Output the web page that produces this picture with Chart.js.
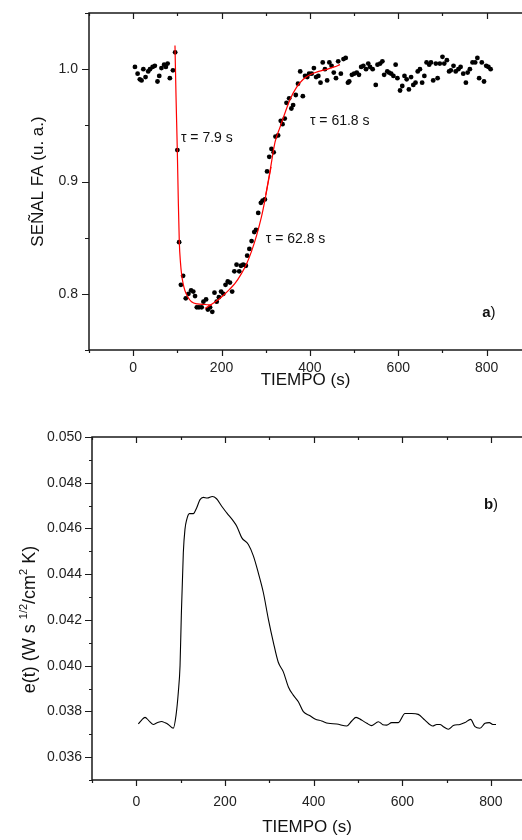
<!DOCTYPE html>
<html>
<head>
<meta charset="utf-8">
<script src="https://cdn.jsdelivr.net/npm/chart.js@4.4.1/dist/chart.umd.min.js"></script>
<style>
  html, body { margin: 0; padding: 0; background: #fff; }
  #wrap { position: relative; width: 522px; height: 840px; }
  canvas { position: absolute; left: 0; }
  #chartA { top: 0; }
  #chartB { top: 400px; }
</style>
</head>
<body>
<div id="wrap">
  <canvas id="chartA" width="522" height="400"></canvas>
  <canvas id="chartB" width="522" height="440"></canvas>
</div>
<script>
// ---- panel a: photoacoustic signal (points) ----
const timeA = [
  4, 10, 15, 19, 23, 28, 34, 38, 44, 49,
  55, 59, 64, 70, 74, 78, 83, 90, 95, 100,
  104, 108, 113, 119, 125, 131, 136, 140, 144, 149,
  155, 159, 165, 169, 174, 179, 184, 189, 194, 199,
  204, 209, 214, 219, 224, 229, 234, 240, 244, 249,
  255, 258, 263, 268, 274, 278, 283, 289, 293, 298,
  303, 308, 313, 318, 322, 328, 334, 338, 343, 347,
  353, 358, 362, 368, 373, 378, 384, 389, 394, 398,
  404, 409, 414, 419, 424, 429, 434, 439, 444, 449,
  454, 459, 464, 470, 476, 481, 486, 489, 495, 500,
  506, 511, 516, 521, 527, 532, 536, 542, 549, 553,
  559, 564, 568, 575, 579, 584, 589, 594, 598, 604,
  609, 614, 619, 624, 629, 634, 639, 644, 649, 654,
  659, 664, 670, 674, 679, 685, 689, 694, 700, 704,
  710, 715, 719, 725, 730, 736, 741, 747, 753, 757,
  762, 768, 774, 779, 783, 789, 794, 799, 804, 809
];
const signalA = [
  1.002, 0.996, 0.991, 0.990, 1.000, 0.993, 0.998, 1.000, 1.002, 1.003,
  0.989, 0.994, 1.001, 1.004, 1.002, 1.005, 0.992, 0.999, 1.015, 0.928,
  0.846, 0.808, 0.816, 0.796, 0.800, 0.803, 0.802, 0.798, 0.788, 0.788,
  0.788, 0.793, 0.795, 0.786, 0.788, 0.784, 0.801, 0.793, 0.797, 0.802,
  0.800, 0.808, 0.811, 0.810, 0.802, 0.820, 0.826, 0.820, 0.825, 0.826,
  0.825, 0.834, 0.840, 0.847, 0.855, 0.857, 0.872, 0.881, 0.883, 0.884,
  0.909, 0.922, 0.929, 0.926, 0.940, 0.941, 0.954, 0.951, 0.956, 0.970,
  0.974, 0.965, 0.968, 0.977, 0.987, 0.998, 0.976, 0.994, 0.993, 0.996,
  0.996, 1.001, 0.993, 0.994, 0.988, 1.006, 1.000, 0.990, 1.006, 1.003,
  0.997, 0.992, 1.007, 0.996, 1.009, 1.010, 0.988, 0.989, 0.995, 0.996,
  0.997, 0.995, 1.002, 1.003, 1.000, 1.005, 1.002, 1.000, 0.986, 1.004,
  1.005, 1.007, 0.995, 0.998, 0.997, 0.996, 0.994, 1.004, 0.992, 0.981,
  0.985, 0.994, 0.991, 0.982, 0.993, 0.986, 0.988, 0.998, 1.000, 0.988,
  0.994, 1.006, 1.004, 1.006, 0.990, 1.005, 0.992, 1.005, 1.011, 1.005,
  1.008, 0.998, 0.999, 1.003, 0.998, 1.000, 1.002, 0.996, 0.988, 0.997,
  1.000, 1.006, 1.006, 1.010, 0.992, 1.006, 0.989, 1.003, 1.002, 1.000
];

// fitted curves (red)
const fitDropT = [94.6, 97, 99.8, 102, 104.4, 107, 109.7, 113, 117, 124, 132, 145, 162.5, 178];
const fitDropV = [1.021, 0.975, 0.929, 0.885, 0.846, 0.828, 0.817, 0.809, 0.803, 0.797, 0.793, 0.791, 0.7905, 0.790];
const fitRise1T = [162.5, 175, 190, 205, 218, 230, 245, 257, 268, 280, 290, 298, 305, 312];
const fitRise1V = [0.787, 0.790, 0.794, 0.799, 0.804, 0.809, 0.818, 0.827, 0.838, 0.853, 0.868, 0.883, 0.898, 0.913];
const fitRise2T = [300, 310, 321, 332, 340, 355, 370, 385, 400, 420, 440, 455, 468];
const fitRise2V = [0.888, 0.910, 0.935, 0.948, 0.957, 0.973, 0.984, 0.991, 0.995, 0.998, 1.000, 1.002, 1.004];

// ---- panel b: effusivity ----
const timeB = [
  4.5, 12, 19.6, 28, 38, 47, 57, 65, 72, 83.5,
  89.6, 94.8, 98.6, 101.5, 106, 109.7, 113.7, 119.6, 128.6, 136,
  143.7, 151, 160, 171.5, 181, 192.6, 204, 219, 226.5, 237.7,
  252.7, 264, 275, 286.5, 297.8, 309, 320, 331.6, 343, 354,
  365.5, 376.7, 391.8, 403, 418, 433, 452, 474.6, 486, 495.6,
  508, 520, 531, 546, 556, 565, 576, 591, 606, 621,
  636, 651, 668.6, 677.6, 685, 692.6, 703.8, 715, 730, 741.5,
  754, 764, 775, 786.6, 796.3, 804, 811.4
];
const effB = [
  0.03745, 0.03762, 0.03774, 0.03760, 0.03743, 0.03750, 0.03756, 0.03750, 0.03743, 0.03727,
  0.03784, 0.03886, 0.04000, 0.04220, 0.04494, 0.04596, 0.04639, 0.04665, 0.04665, 0.04690,
  0.04726, 0.04736, 0.04733, 0.04740, 0.04730, 0.04697, 0.04668, 0.04632, 0.04610, 0.04560,
  0.04530, 0.04480, 0.04407, 0.04320, 0.04204, 0.04103, 0.04016, 0.03973, 0.03907, 0.03871,
  0.03842, 0.03799, 0.03781, 0.03767, 0.03758, 0.03748, 0.03745, 0.03736, 0.03758, 0.03774,
  0.03762, 0.03748, 0.03738, 0.03755, 0.03742, 0.03740, 0.03751, 0.03751, 0.03791, 0.03791,
  0.03787, 0.03762, 0.03736, 0.03743, 0.03743, 0.03733, 0.03722, 0.03738, 0.03743, 0.03751,
  0.03765, 0.03733, 0.03726, 0.03748, 0.03751, 0.03743, 0.03743
];

// tick labels
const xTickLabels = [0, 200, 400, 600, 800];
const yTickLabelsA = ['0.8', '0.9', '1.0'];
const yTickLabelsB = ['0.036', '0.038', '0.040', '0.042', '0.044', '0.046', '0.048', '0.050'];

const FONT = "'Liberation Sans', Arial, sans-serif";
const pts = (xs, ys) => xs.map((x, i) => ({ x: x, y: ys[i] }));

function isMajorX(v) { return xTickLabels.includes(Math.round(v)); }
function isMajorYA(v) { return yTickLabelsA.includes(v.toFixed(1)) && Math.abs(v - v.toFixed(1)) < 1e-6; }
function isMajorYB(v) { return yTickLabelsB.includes(v.toFixed(3)) && Math.abs(v - v.toFixed(3)) < 1e-7; }

// keep the plot box exactly where the original has it
function fixX(h) {
  return s => { s.height = h; s.paddingLeft = 0; s.paddingRight = 0; };
}
function fixY(w) {
  return s => { s.width = w; s.paddingTop = 0; s.paddingBottom = 0; };
}

// frame + tick marks drawn like the original plotting program
function axesFrame(o) {
  return {
    id: 'axesFrame',
    afterDatasetsDraw(chart) {
      const { ctx, chartArea: a } = chart;
      const x = chart.scales.x, y = chart.scales.y;
      ctx.save();
      ctx.strokeStyle = '#1a1a1a';
      ctx.lineWidth = 1.5;
      ctx.beginPath();
      ctx.moveTo(a.right + 2, a.top);
      ctx.lineTo(a.left, a.top);
      ctx.lineTo(a.left, a.bottom);
      ctx.lineTo(a.right + 2, a.bottom);
      ctx.stroke();
      ctx.lineWidth = 1.2;
      ctx.beginPath();
      x.ticks.forEach(t => {
        const px = Math.round(x.getPixelForValue(t.value)) + 0.5;
        const len = isMajorX(t.value) ? o.xMajor : o.xMinor;
        ctx.moveTo(px, a.bottom); ctx.lineTo(px, a.bottom + len);
        ctx.moveTo(px, a.top); ctx.lineTo(px, a.top + len);
      });
      y.ticks.forEach(t => {
        const py = Math.round(y.getPixelForValue(t.value)) + 0.5;
        const len = o.isMajorY(t.value) ? o.yMajor : o.yMinor;
        ctx.moveTo(a.left, py); ctx.lineTo(a.left - len, py);
      });
      ctx.stroke();
      ctx.restore();
    }
  };
}

function panelTag(ctx, letter, xr, yc) {
  ctx.save();
  ctx.textBaseline = 'middle';
  ctx.fillStyle = '#111';
  ctx.font = '15px ' + FONT;
  const pw = ctx.measureText(')').width;
  ctx.textAlign = 'right';
  ctx.fillText(')', xr, yc);
  ctx.font = 'bold 15px ' + FONT;
  ctx.fillText(letter, xr - pw, yc);
  ctx.restore();
}

const annotA = {
  id: 'annotA',
  afterDatasetsDraw(chart) {
    const { ctx } = chart;
    const x = chart.scales.x, y = chart.scales.y;
    ctx.save();
    ctx.fillStyle = '#111';
    ctx.font = '14px ' + FONT;
    ctx.textBaseline = 'middle';
    ctx.textAlign = 'left';
    ctx.fillText('\u03c4 = 7.9 s', x.getPixelForValue(108), y.getPixelForValue(0.939));
    ctx.fillText('\u03c4 = 62.8 s', x.getPixelForValue(300), y.getPixelForValue(0.8486));
    ctx.fillText('\u03c4 = 61.8 s', x.getPixelForValue(400), y.getPixelForValue(0.9535));
    ctx.restore();
    panelTag(ctx, 'a', x.getPixelForValue(820), y.getPixelForValue(0.783));
  }
};

const annotB = {
  id: 'annotB',
  afterDatasetsDraw(chart) {
    const { ctx } = chart;
    const x = chart.scales.x, y = chart.scales.y;
    panelTag(ctx, 'b', x.getPixelForValue(816), y.getPixelForValue(0.04704));
    // y-axis title with superscripts
    const parts = [['e(t) (W s ', false], ['1/2', true], ['/cm', false], ['2', true], [' K)', false]];
    const big = '18px ' + FONT, small = '11px ' + FONT;
    ctx.save();
    let total = 0;
    parts.forEach(p => { ctx.font = p[1] ? small : big; total += ctx.measureText(p[0]).width; });
    const cy = (chart.chartArea.top + chart.chartArea.bottom) / 2 + 11;
    ctx.translate(35, cy);
    ctx.rotate(-Math.PI / 2);
    ctx.fillStyle = '#111';
    ctx.textBaseline = 'alphabetic';
    ctx.textAlign = 'left';
    let cx = -total / 2;
    parts.forEach(p => {
      ctx.font = p[1] ? small : big;
      ctx.fillText(p[0], cx, p[1] ? -8 : 0);
      cx += ctx.measureText(p[0]).width;
    });
    ctx.restore();
  }
};

const tickFont = { family: FONT, size: 14 };
const titleFont = { family: FONT, size: 17 };

new Chart(document.getElementById('chartA'), {
  type: 'scatter',
  data: {
    datasets: [
      { type: 'line', data: pts(fitDropT, fitDropV), borderColor: '#ff0000', borderWidth: 1.2, pointRadius: 0, cubicInterpolationMode: 'monotone' },
      { type: 'line', data: pts(fitRise1T, fitRise1V), borderColor: '#ff0000', borderWidth: 1.2, pointRadius: 0, cubicInterpolationMode: 'monotone' },
      { type: 'line', data: pts(fitRise2T, fitRise2V), borderColor: '#ff0000', borderWidth: 1.2, pointRadius: 0, cubicInterpolationMode: 'monotone' },
      { data: pts(timeA, signalA), backgroundColor: '#000', borderColor: '#000', borderWidth: 0, pointRadius: 2.4 }
    ]
  },
  options: {
    responsive: false,
    animation: false,
    devicePixelRatio: 1,
    layout: { autoPadding: false, padding: { left: 0, right: 0, top: 13, bottom: 0 } },
    plugins: { legend: { display: false }, tooltip: { enabled: false } },
    scales: {
      x: {
        type: 'linear', min: -100, max: 880,
        afterFit: fixX(50),
        grid: { display: false, drawTicks: false },
        border: { display: false },
        ticks: {
          stepSize: 100, includeBounds: false, autoSkip: false, maxRotation: 0,
          padding: 10, color: '#222', font: tickFont,
          callback: v => isMajorX(v) ? String(Math.round(v)) : ''
        },
        title: { display: true, text: 'TIEMPO (s)', color: '#111', font: titleFont, padding: { top: 0, bottom: 9 } }
      },
      y: {
        min: 0.75, max: 1.05,
        afterFit: fixY(89),
        grid: { display: false, drawTicks: false },
        border: { display: false },
        ticks: {
          stepSize: 0.05, includeBounds: false, autoSkip: false,
          padding: 11, color: '#222', font: tickFont,
          callback: v => isMajorYA(v) ? v.toFixed(1) : ''
        },
        title: { display: true, text: 'SE\u00d1AL FA (u. a.)', color: '#111', font: titleFont, padding: { top: 28, bottom: 0 } }
      }
    }
  },
  plugins: [axesFrame({ xMajor: 6, xMinor: 3, yMajor: 7, yMinor: 4, isMajorY: isMajorYA }), annotA]
});

new Chart(document.getElementById('chartB'), {
  type: 'line',
  data: {
    datasets: [
      { data: pts(timeB, effB), borderColor: '#000', borderWidth: 1.1, pointRadius: 0, fill: false, cubicInterpolationMode: 'monotone' }
    ]
  },
  options: {
    responsive: false,
    animation: false,
    devicePixelRatio: 1,
    layout: { autoPadding: false, padding: { left: 0, right: 0, top: 37, bottom: 0 } },
    plugins: { legend: { display: false }, tooltip: { enabled: false } },
    scales: {
      x: {
        type: 'linear', min: -100, max: 870,
        afterFit: fixX(60),
        grid: { display: false, drawTicks: false },
        border: { display: false },
        ticks: {
          stepSize: 100, includeBounds: false, autoSkip: false, maxRotation: 0,
          padding: 14, color: '#222', font: tickFont,
          callback: v => isMajorX(v) ? String(Math.round(v)) : ''
        },
        title: { display: true, text: 'TIEMPO (s)', color: '#111', font: titleFont, padding: { top: 0, bottom: 2 } }
      },
      y: {
        min: 0.035, max: 0.050,
        afterFit: fixY(92),
        grid: { display: false, drawTicks: false },
        border: { display: false },
        ticks: {
          stepSize: 0.001, includeBounds: false, autoSkip: false,
          padding: 10, color: '#222', font: tickFont,
          callback: v => isMajorYB(v) ? v.toFixed(3) : ''
        }
      }
    }
  },
  plugins: [axesFrame({ xMajor: 6, xMinor: 3, yMajor: 7, yMinor: 3, isMajorY: isMajorYB }), annotB]
});
</script>
</body>
</html>
